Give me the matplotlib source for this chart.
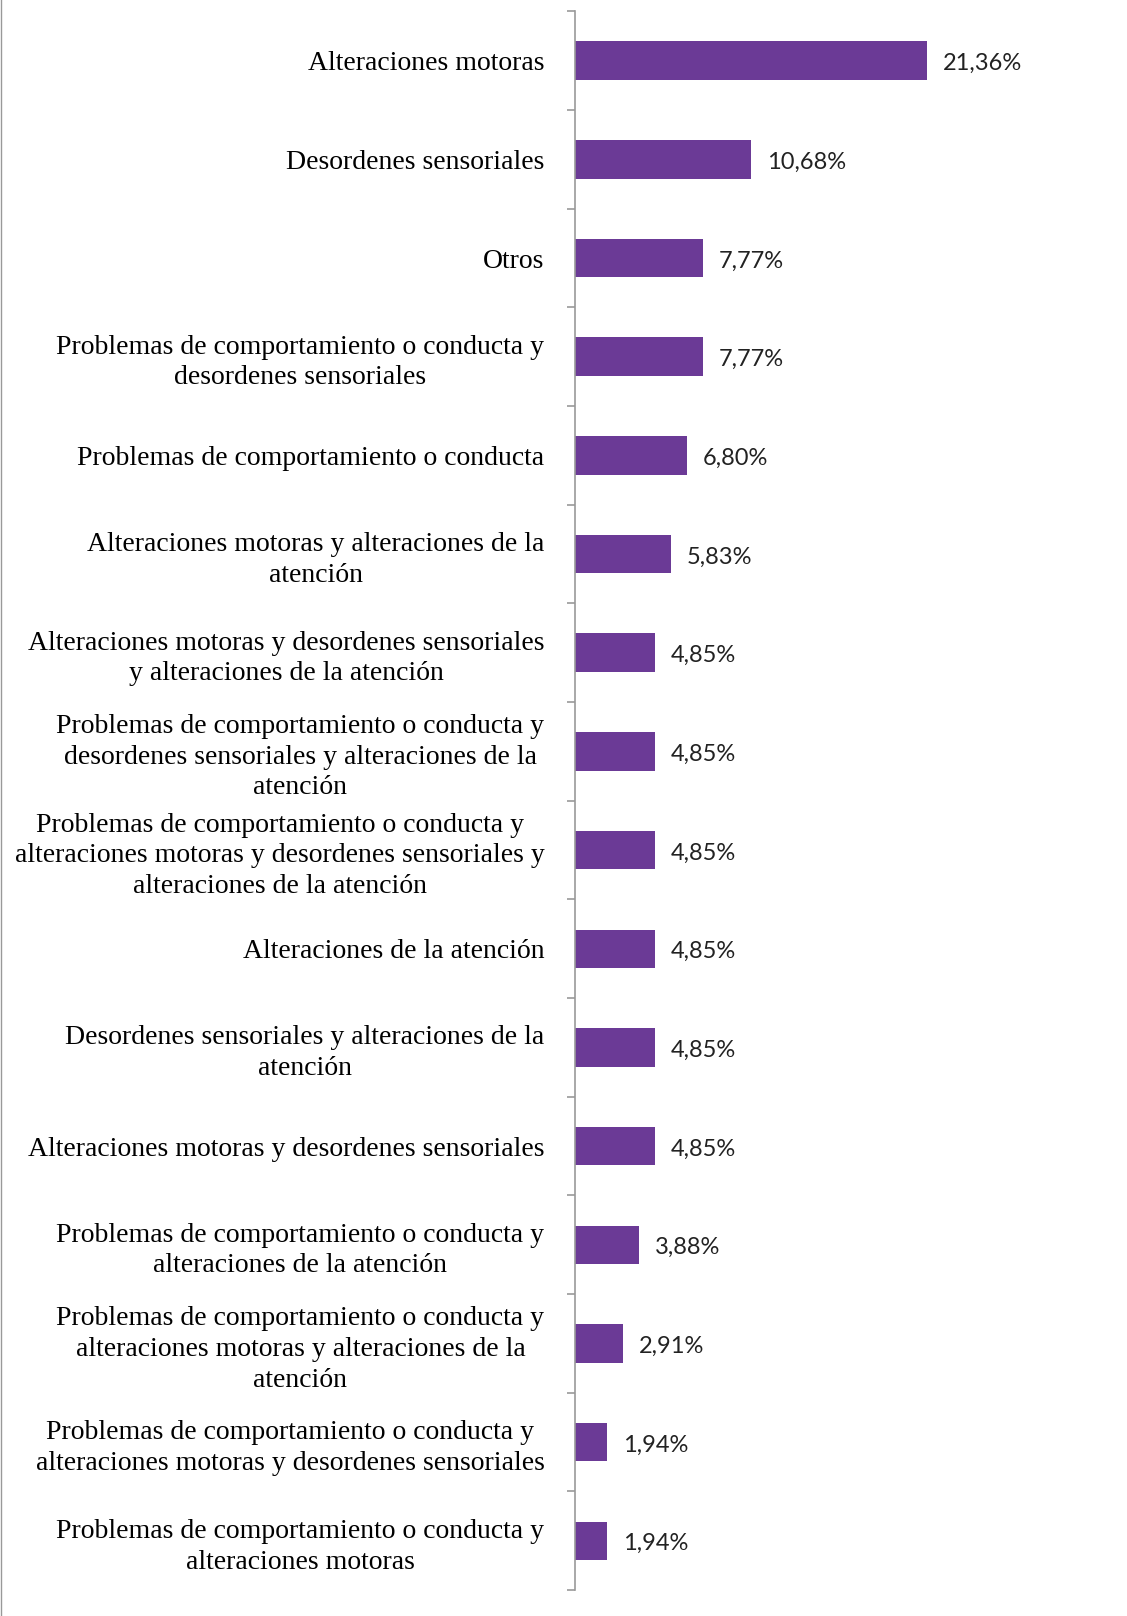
import matplotlib.pyplot as plt
from matplotlib.lines import Line2D

categorias = [
    "Alteraciones motoras",
    "Desordenes sensoriales",
    "Otros",
    "Problemas de comportamiento o conducta y\ndesordenes sensoriales",
    "Problemas de comportamiento o conducta",
    "Alteraciones motoras y alteraciones de la\natención",
    "Alteraciones motoras y desordenes sensoriales\ny alteraciones de la atención",
    "Problemas de comportamiento o conducta y\ndesordenes sensoriales y alteraciones de la\natención",
    "Problemas de comportamiento o conducta y\nalteraciones motoras y desordenes sensoriales y\nalteraciones de la atención",
    "Alteraciones de la atención",
    "Desordenes sensoriales y alteraciones de la\natención",
    "Alteraciones motoras y desordenes sensoriales",
    "Problemas de comportamiento o conducta y\nalteraciones de la atención",
    "Problemas de comportamiento o conducta y\nalteraciones motoras y alteraciones de la\natención",
    "Problemas de comportamiento o conducta y\nalteraciones motoras y desordenes sensoriales",
    "Problemas de comportamiento o conducta y\nalteraciones motoras",
]
porcentajes = [21.36, 10.68, 7.77, 7.77, 6.80, 5.83, 4.85, 4.85, 4.85,
               4.85, 4.85, 4.85, 3.88, 2.91, 1.94, 1.94]

fig = plt.figure(figsize=(11.27, 16.16), dpi=100)
ax = fig.add_axes([0.5102, 0.016, 0.4898, 0.977])

n = len(categorias)
pos = list(range(n))
ax.barh(pos, porcentajes, height=0.39, color="#6B3A96")
ax.set_ylim(n - 0.5, -0.5)
ax.set_xlim(0, 33.5)

for y, v in zip(pos, porcentajes):
    ax.text(v + 0.95, y + 0.03, f"{v:.2f}%".replace(".", ","), va="center", ha="left",
            fontsize=17, family="Lato", color="#222222")

ax.set_yticks(pos)
ax.set_yticklabels(categorias, family="Liberation Serif", fontsize=20)
for t in ax.get_yticklabels():
    t.set_multialignment("center")
    t.set_linespacing(1.3)
ax.tick_params(axis="y", which="major", length=0, pad=22)
ax.set_yticks([i - 0.5 for i in range(n + 1)], minor=True)
ax.tick_params(axis="y", which="minor", length=6, color="#999999", width=1.2)
ax.set_xticks([])

for s in ["top", "right", "bottom"]:
    ax.spines[s].set_visible(False)
ax.spines["left"].set_color("#999999")
ax.spines["left"].set_linewidth(1.2)

fig.add_artist(Line2D([0.0009, 0.0009], [0, 1], color="#999999", lw=1.0))

fig.savefig("out.png", dpi=100)
